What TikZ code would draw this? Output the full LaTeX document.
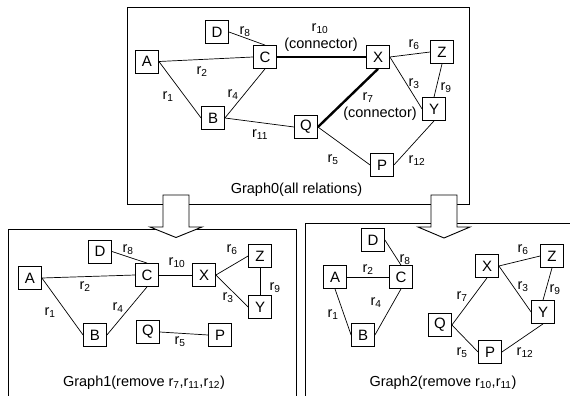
\documentclass[tikz,border=0pt]{standalone}
\usepackage{fontspec}
\setmainfont{Liberation Sans}
\newcommand{\rr}[1]{r\textsubscript{#1}}
\begin{document}
\begin{tikzpicture}[x=1pt,y=-1pt,
 box/.style={draw, line width=0.8pt, minimum size=23pt, inner sep=0pt, font=\fontsize{15}{18}\selectfont, fill=white},
 lbl/.style={inner sep=0pt, font=\fontsize{14.5}{17}\selectfont},
 ln/.style={line width=0.7pt},
 thk/.style={line width=2.4pt},
 frame/.style={draw, line width=0.9pt},
 bigarrow/.style={draw, line width=0.9pt, fill=white}]
\useasboundingbox (0,0) rectangle (570,396);
\clip (0,0) rectangle (570,396);
% frames
\draw[frame] (8,400) -- (8,229) -- (296,229) -- (296,400);
\draw[frame] (305,400) -- (305,223) -- (575,223);
\draw[frame] (127,7) rectangle (469,204);
% arrows
\draw[bigarrow] (163,195) -- (189,195) -- (189,227) -- (202,227) -- (176,237.5) -- (150,227) -- (163,227) -- cycle;
\draw[bigarrow] (431,195) -- (457,195) -- (457,227) -- (470,227) -- (444,238) -- (418,227) -- (431,227) -- cycle;

% ---------- Graph0 ----------
\node[box] (a0) at (147,61.5) {A};
\node[box] (d0) at (217,32) {D};
\node[box] (c0) at (265,57) {C};
\node[box] (x0) at (378,57) {X};
\node[box] (z0) at (442,52) {Z};
\node[box] (y0) at (434,109) {Y};
\node[box] (b0) at (213,118) {B};
\node[box] (q0) at (306,127) {Q};
\node[box] (p0) at (382,165) {P};
\draw[ln] (a0.east) -- (c0.west);
\draw[ln] (a0.east) -- (b0.west);
\draw[ln] (b0.east) -- (c0.south);
\draw[ln] (d0.east) -- (c0.north);
\draw[thk] (c0.east) -- (x0.west);
\draw[thk] (x0.south) -- (q0.east);
\draw[ln] (b0.east) -- (q0.west);
\draw[ln] (q0.east) -- (p0.west);
\draw[ln] (p0.east) -- (y0.south);
\draw[ln] (x0.east) -- (y0.west);
\draw[ln] (x0.east) -- (z0.west);
\draw[ln] (z0.south) -- (y0.north);
\node[lbl] (l0r8) at (245,32) {\rr{8}};
\node[lbl] (l0r10) at (320,28.5) {\rr{10}};
\node[lbl] (l0c1) at (321,44.5) {(connector)};
\node[lbl] (l0r6) at (414,45) {\rr{6}};
\node[lbl] (l0r2) at (202,72) {\rr{2}};
\node[lbl] (l0r1) at (168,97) {\rr{1}};
\node[lbl] (l0r4) at (233,95) {\rr{4}};
\node[lbl] (l0r3) at (414,84) {\rr{3}};
\node[lbl] (l0r9) at (446,88) {\rr{9}};
\node[lbl] (l0r7) at (368,98) {\rr{7}};
\node[lbl] (l0c2) at (380,114) {(connector)};
\node[lbl] (l0r11) at (260,135) {\rr{11}};
\node[lbl] (l0r5) at (333,160) {\rr{5}};
\node[lbl] (l0r12) at (417,161) {\rr{12}};
\node[lbl] (t0) at (296.5,190) {Graph0(all relations)};

% ---------- Graph1 ----------
\node[box] (d1) at (100,251.5) {D};
\node[box] (a1) at (30,278) {A};
\node[box] (c1) at (147,275) {C};
\node[box] (x1) at (204,275) {X};
\node[box] (z1) at (260,256) {Z};
\node[box] (y1) at (260,307) {Y};
\node[box] (b1) at (95,335) {B};
\node[box] (q1) at (148,332) {Q};
\node[box] (p1) at (220,335) {P};
\draw[ln] (d1.east) -- (c1.north);
\draw[ln] (a1.east) -- (c1.west);
\draw[ln] (a1.east) -- (b1.west);
\draw[ln] (b1.east) -- (c1.south);
\draw[ln] (c1.east) -- (x1.west);
\draw[ln] (x1.east) -- (z1.west);
\draw[ln] (x1.east) -- (y1.west);
\draw[ln] (z1.south) -- (y1.north);
\draw[ln] (q1.east) -- (p1.west);
\node[lbl] (l1r8) at (128,250) {\rr{8}};
\node[lbl] (l1r10) at (177,263) {\rr{10}};
\node[lbl] (l1r6) at (232,250) {\rr{6}};
\node[lbl] (l1r2) at (85,287) {\rr{2}};
\node[lbl] (l1r1) at (50,313) {\rr{1}};
\node[lbl] (l1r4) at (118,308) {\rr{4}};
\node[lbl] (l1r3) at (228,298) {\rr{3}};
\node[lbl] (l1r9) at (275,288) {\rr{9}};
\node[lbl] (l1r5) at (180,342) {\rr{5}};
\node[lbl] (t1) at (144,383) {Graph1(remove \rr{7},\rr{11},\rr{12})};

% ---------- Graph2 ----------
\node[box] (d2) at (373,240) {D};
\node[box] (a2) at (335,277) {A};
\node[box] (c2) at (401,277) {C};
\node[box] (b2) at (363,335) {B};
\node[box] (x2) at (487,266) {X};
\node[box] (z2) at (552,256) {Z};
\node[box] (y2) at (543,312) {Y};
\node[box] (q2) at (440,325) {Q};
\node[box] (p2) at (490,352) {P};
\draw[ln] (d2.east) -- (c2.north);
\draw[ln] (a2.east) -- (c2.west);
\draw[ln] (a2.south) -- (b2.west);
\draw[ln] (b2.east) -- (c2.south);
\draw[ln] (x2.east) -- (z2.west);
\draw[ln] (x2.east) -- (y2.west);
\draw[ln] (z2.south) -- (y2.north);
\draw[ln] (x2.south) -- (q2.east);
\draw[ln] (q2.east) -- (p2.west);
\draw[ln] (p2.east) -- (y2.south);
\node[lbl] (l2r8) at (405,260) {\rr{8}};
\node[lbl] (l2r2) at (368,270) {\rr{2}};
\node[lbl] (l2r1) at (333,315) {\rr{1}};
\node[lbl] (l2r4) at (376,303) {\rr{4}};
\node[lbl] (l2r6) at (523,250) {\rr{6}};
\node[lbl] (l2r3) at (523,287) {\rr{3}};
\node[lbl] (l2r9) at (555,290) {\rr{9}};
\node[lbl] (l2r7) at (462,297) {\rr{7}};
\node[lbl] (l2r5) at (462,353) {\rr{5}};
\node[lbl] (l2r12) at (525,353) {\rr{12}};
\node[lbl] (t2) at (443,383) {Graph2(remove \rr{10},\rr{11})};
\end{tikzpicture}
\end{document}
